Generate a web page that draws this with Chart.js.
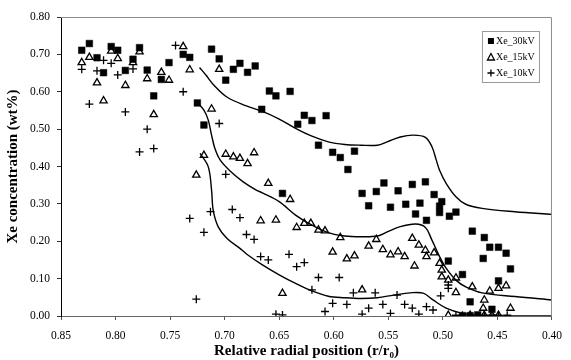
<!DOCTYPE html>
<html><head><meta charset="utf-8">
<script src="https://cdn.jsdelivr.net/npm/chart.js@4.4.1/dist/chart.umd.min.js"></script>
<style>html,body{margin:0;padding:0;background:#fff;}</style>
</head><body>
<canvas id="c" width="571" height="360"></canvas>
<script>
// ---- data ----
const seriesNames = ["Xe_30kV", "Xe_15kV", "Xe_10kV"];
const xTicks = [0.85,0.80,0.75,0.70,0.65,0.60,0.55,0.50,0.45,0.40];
const yTicks = [0.00,0.10,0.20,0.30,0.40,0.50,0.60,0.70,0.80];

const xe30kV = [[0.831,0.711],[0.824,0.729],[0.817,0.691],[0.811,0.651],[0.804,0.721],[0.798,0.711],[0.791,0.657],[0.784,0.687],[0.778,0.718],[0.771,0.658],[0.765,0.589],[0.758,0.633],[0.751,0.678],[0.738,0.700],[0.732,0.692],[0.725,0.570],[0.719,0.511],[0.712,0.714],[0.705,0.688],[0.699,0.631],[0.692,0.660],[0.686,0.676],[0.679,0.652],[0.672,0.669],[0.666,0.553],[0.659,0.602],[0.653,0.589],[0.647,0.328],[0.640,0.601],[0.633,0.513],[0.627,0.537],[0.620,0.523],[0.614,0.457],[0.607,0.536],[0.601,0.438],[0.594,0.424],[0.587,0.392],[0.581,0.441],[0.574,0.328],[0.568,0.295],[0.561,0.333],[0.554,0.356],[0.548,0.291],[0.541,0.335],[0.534,0.299],[0.528,0.352],[0.525,0.273],[0.521,0.302],[0.516,0.359],[0.515,0.256],[0.508,0.325],[0.503,0.277],[0.503,0.294],[0.501,0.306],[0.494,0.267],[0.488,0.278],[0.473,0.227],[0.462,0.210],[0.457,0.184],[0.449,0.184],[0.463,0.154],[0.442,0.168],[0.438,0.126],[0.495,0.147],[0.482,0.111],[0.449,0.094],[0.475,0.038],[0.455,0.018],[0.482,0.001],[0.475,0.001],[0.468,0.003]];

const xe15kV = [[0.831,0.678],[0.824,0.692],[0.817,0.624],[0.811,0.576],[0.804,0.709],[0.798,0.689],[0.791,0.617],[0.784,0.678],[0.778,0.707],[0.771,0.635],[0.765,0.539],[0.758,0.652],[0.751,0.631],[0.738,0.721],[0.732,0.659],[0.726,0.377],[0.719,0.430],[0.712,0.554],[0.705,0.660],[0.699,0.433],[0.692,0.426],[0.686,0.422],[0.679,0.408],[0.673,0.437],[0.667,0.255],[0.660,0.355],[0.653,0.257],[0.647,0.061],[0.640,0.312],[0.634,0.237],[0.627,0.248],[0.621,0.248],[0.614,0.230],[0.608,0.228],[0.601,0.171],[0.594,0.210],[0.588,0.153],[0.581,0.161],[0.574,0.070],[0.568,0.187],[0.561,0.205],[0.555,0.178],[0.548,0.164],[0.541,0.172],[0.535,0.159],[0.528,0.208],[0.526,0.134],[0.522,0.190],[0.516,0.176],[0.515,0.159],[0.508,0.169],[0.503,0.141],[0.501,0.123],[0.501,0.105],[0.495,0.096],[0.488,0.102],[0.488,0.063],[0.473,0.078],[0.457,0.067],[0.449,0.074],[0.442,0.081],[0.462,0.043],[0.463,0.021],[0.438,0.021],[0.495,0.002],[0.475,0.002],[0.462,0.002],[0.455,0.002],[0.449,0.002]];

const xe10kV = [[0.831,0.660],[0.824,0.567],[0.817,0.656],[0.811,0.684],[0.804,0.676],[0.798,0.645],[0.791,0.546],[0.784,0.661],[0.778,0.439],[0.771,0.500],[0.765,0.448],[0.745,0.724],[0.738,0.600],[0.732,0.261],[0.726,0.045],[0.719,0.224],[0.713,0.279],[0.705,0.515],[0.699,0.379],[0.693,0.285],[0.686,0.263],[0.680,0.218],[0.673,0.205],[0.667,0.159],[0.660,0.150],[0.653,0.005],[0.647,0.003],[0.641,0.165],[0.634,0.132],[0.627,0.143],[0.620,0.070],[0.614,0.103],[0.608,0.012],[0.601,0.034],[0.595,0.103],[0.588,0.031],[0.582,0.062],[0.574,0.005],[0.568,0.021],[0.562,0.062],[0.555,0.031],[0.548,0.007],[0.542,0.056],[0.535,0.031],[0.528,0.021],[0.522,0.005],[0.515,0.025],[0.509,0.016],[0.502,0.054],[0.495,0.083],[0.495,0.074],[0.488,0.002],[0.482,0.002],[0.462,0.002],[0.455,0.002],[0.449,0.002],[0.441,0.002]];

// model curves
const curve30kV = [[0.723,0.665],[0.717,0.644],[0.710,0.618],[0.698,0.586],[0.680,0.562],[0.666,0.548],[0.650,0.527],[0.635,0.502],[0.620,0.481],[0.605,0.466],[0.590,0.459],[0.575,0.457],[0.560,0.457],[0.551,0.466],[0.539,0.479],[0.527,0.484],[0.516,0.478],[0.510,0.453],[0.506,0.417],[0.503,0.390],[0.497,0.355],[0.488,0.319],[0.479,0.299],[0.464,0.288],[0.434,0.279],[0.400,0.272]];
const curve15kV = [[0.725,0.570],[0.719,0.551],[0.715,0.524],[0.712,0.484],[0.709,0.449],[0.704,0.417],[0.695,0.388],[0.683,0.359],[0.671,0.337],[0.665,0.329],[0.650,0.306],[0.635,0.270],[0.620,0.243],[0.605,0.223],[0.590,0.214],[0.575,0.212],[0.560,0.214],[0.551,0.225],[0.539,0.239],[0.525,0.246],[0.516,0.237],[0.510,0.203],[0.503,0.159],[0.497,0.128],[0.488,0.096],[0.479,0.078],[0.464,0.062],[0.434,0.052],[0.400,0.043]];
const curve10kV = [[0.7225,0.435],[0.715,0.399],[0.712,0.337],[0.7105,0.283],[0.706,0.239],[0.698,0.208],[0.686,0.181],[0.680,0.166],[0.665,0.136],[0.650,0.110],[0.635,0.087],[0.620,0.067],[0.605,0.053],[0.590,0.049],[0.575,0.047],[0.560,0.049],[0.545,0.056],[0.530,0.062],[0.518,0.061],[0.509,0.043],[0.497,0.021],[0.482,0.007],[0.464,0.001],[0.400,0.000]];

const toPts = arr => arr.map(p => ({x:p[0], y:p[1]}));
const SERIF = "'Liberation Serif','Times New Roman','DejaVu Serif',serif";

const frameAndLegend = {
  id: 'frameAndLegend',
  afterDraw(chart) {
    const {ctx, chartArea:a} = chart;
    ctx.save();
    ctx.strokeStyle = '#8c8c8c';
    ctx.lineWidth = 1;
    ctx.beginPath();
    ctx.moveTo(a.left, a.top + 0.5);
    ctx.lineTo(a.right - 0.5, a.top + 0.5);
    ctx.lineTo(a.right - 0.5, a.bottom);
    ctx.stroke();
    const bx = a.right - 70, by = a.top + 14, bw = 57, bh = 51;
    ctx.fillStyle = '#fff';
    ctx.fillRect(bx, by, bw, bh);
    ctx.strokeStyle = '#9a9a9a';
    ctx.strokeRect(bx + 0.5, by + 0.5, bw, bh);
    ctx.font = "10px " + SERIF;
    ctx.fillStyle = '#000';
    ctx.textBaseline = 'middle';
    ctx.textAlign = 'left';
    const rows = [by + 10, by + 26, by + 42];
    const mx = bx + 9, tx = bx + 14;
    ctx.fillRect(mx - 3, rows[0] - 3, 6, 6);
    ctx.lineWidth = 1.3; ctx.strokeStyle = '#000';
    ctx.beginPath();
    ctx.moveTo(mx, rows[1] - 3.5); ctx.lineTo(mx + 3.5, rows[1] + 3); ctx.lineTo(mx - 3.5, rows[1] + 3); ctx.closePath(); ctx.stroke();
    ctx.beginPath();
    ctx.moveTo(mx - 3.5, rows[2]); ctx.lineTo(mx + 3.5, rows[2]);
    ctx.moveTo(mx, rows[2] - 3.5); ctx.lineTo(mx, rows[2] + 3.5); ctx.stroke();
    seriesNames.forEach((n, i) => ctx.fillText(n, tx, rows[i] + 0.5));
    ctx.restore();
  }
};

new Chart(document.getElementById('c'), {
  type: 'scatter',
  data: {
    datasets: [
      {label:'curve30', data: toPts(curve30kV), showLine:true, borderColor:'#000', borderWidth:1.4, pointRadius:0, tension:0.35, fill:false},
      {label:'curve15', data: toPts(curve15kV), showLine:true, borderColor:'#000', borderWidth:1.4, pointRadius:0, tension:0.35, fill:false},
      {label:'curve10', data: toPts(curve10kV), showLine:true, borderColor:'#000', borderWidth:1.4, pointRadius:0, tension:0.35, fill:false},
      {label:seriesNames[0], data: toPts(xe30kV), pointStyle:'rect', pointRadius:4.7, backgroundColor:'#000', borderColor:'#000', borderWidth:0.5},
      {label:seriesNames[1], data: toPts(xe15kV), pointStyle:'triangle', pointRadius:4.2, backgroundColor:'rgba(255,255,255,0)', borderColor:'#000', borderWidth:1.3},
      {label:seriesNames[2], data: toPts(xe10kV), pointStyle:'cross', pointRadius:4, backgroundColor:'#000', borderColor:'#000', borderWidth:1.3}
    ]
  },
  options: {
    responsive: false,
    animation: false,
    devicePixelRatio: 1,
    layout: {padding: {top: 17, right: 9, left: 0, bottom: 0}},
    plugins: {legend: {display: false}, tooltip: {enabled: false}},
    scales: {
      x: {
        type: 'linear', reverse: true, min: 0.40, max: 0.85,
        afterFit: s => { s.height = 44; },
        afterBuildTicks: s => { s.ticks = xTicks.map(v => ({value: v})); },
        ticks: {color:'#000', font:{family:SERIF, size:11.5}, padding:9, maxRotation:0, autoSkip:false, callback: v => v.toFixed(2)},
        grid: {display:true, drawOnChartArea:false, drawTicks:true, tickLength:4, color:'#555'},
        border: {display:true, color:'#666', width:1},
        title: {display:true, text:'Relative radial position (r/r\u2080)', color:'#000', font:{family:SERIF, size:15, weight:'bold'}, padding:{top:0, bottom:0}}
      },
      y: {
        type: 'linear', min: 0, max: 0.8,
        afterFit: s => { s.width = 61; },
        afterBuildTicks: s => { s.ticks = yTicks.map(v => ({value: v})); },
        ticks: {color:'#000', font:{family:SERIF, size:11.5}, padding:7, callback: v => v.toFixed(2)},
        grid: {display:true, drawOnChartArea:false, drawTicks:true, tickLength:4, color:'#333'},
        border: {display:true, color:'#000', width:1},
        title: {display:true, text:'Xe concentration (wt%)', color:'#000', font:{family:SERIF, size:15, weight:'bold'}, padding:{top:4, bottom:0}}
      }
    }
  },
  plugins: [frameAndLegend]
});
</script>
</body></html>
